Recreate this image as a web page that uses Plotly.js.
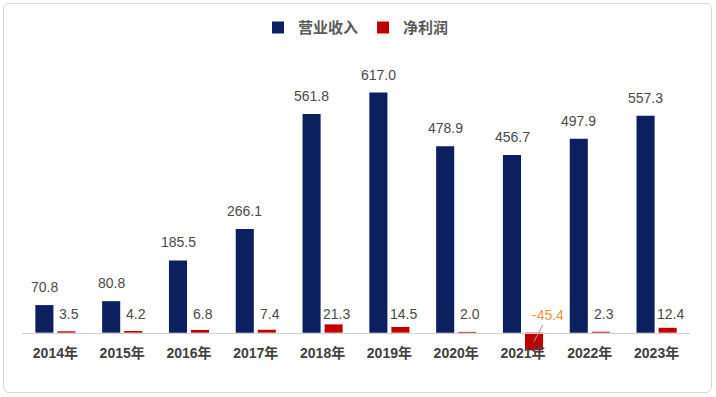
<!DOCTYPE html>
<html>
<head>
<meta charset="utf-8">
<script src="https://cdn.plot.ly/plotly-3.0.1.min.js"></script>
<style>
html,body{margin:0;padding:0;background:#fff;}
#wrap{position:relative;width:716px;height:397px;}
#chart{position:absolute;left:0;top:0;width:716px;height:397px;}
#frame{position:absolute;left:3px;top:3px;width:707px;height:388px;border:1.5px solid #d6d6d6;border-radius:6px;pointer-events:none;}
</style>
</head>
<body>
<div id="wrap"><div id="chart"></div><div id="frame"></div></div>
<script>
const years = ['2014年','2015年','2016年','2017年','2018年','2019年','2020年','2021年','2022年','2023年'];
const revenue = [70.8, 80.8, 185.5, 266.1, 561.8, 617.0, 478.9, 456.7, 497.9, 557.3];
const profit = [3.5, 4.2, 6.8, 7.4, 21.3, 14.5, 2.0, -45.4, 2.3, 12.4];
const seriesNames = ['营业收入', '净利润'];

const FONT = 'Liberation Sans, Arial, Noto Sans CJK SC, sans-serif';
const NAVY = '#0c1f5f';
const RED = '#c00000';

const traces = [
  {type:'bar', name:seriesNames[0], x:years, y:revenue, marker:{color:NAVY}, hoverinfo:'none'},
  {type:'bar', name:seriesNames[1], x:years, y:profit, marker:{color:RED}, hoverinfo:'none'}
];

const annotations = [];
years.forEach((yr, i) => {
  annotations.push({
    x: yr, y: revenue[i], xref:'x', yref:'y', xshift:-11, yshift:8,
    yanchor:'bottom', xanchor:'center', showarrow:false,
    text: revenue[i].toFixed(1),
    font:{family:FONT, size:14, color:'#4a4a4a'}
  });
  if (profit[i] >= 0) {
    annotations.push({
      x: yr, y: 0, xref:'x', yref:'y', xshift:14, yshift:9,
      yanchor:'bottom', xanchor:'center', showarrow:false,
      text: profit[i].toFixed(1),
      font:{family:FONT, size:14, color:'#4a4a4a'}
    });
  } else {
    annotations.push({
      x: yr, y: profit[i] / 2, xref:'x', yref:'y', xshift:11,
      showarrow:true, arrowhead:0, arrowwidth:1, arrowcolor:'#a0a0a0',
      ax: 14, ay: -26, standoff:0,
      text: profit[i].toFixed(1),
      font:{family:FONT, size:14, color:'#f0913a'}
    });
  }
});

const layout = {
  width:716, height:397,
  margin:{l:22, r:26, t:68, b:41, autoexpand:false},
  paper_bgcolor:'#ffffff', plot_bgcolor:'rgba(0,0,0,0)',
  barmode:'group', bargap:0.34, bargroupgap:0.18,
  showlegend:true,
  legend:{orientation:'h', x:0.5, xanchor:'center', y:1.14, yanchor:'middle',
    font:{family:'Noto Sans CJK SC, sans-serif', size:15, color:'#5a5a5a', weight:'bold'},
    itemwidth:30, tracegroupgap:0},
  xaxis:{
    type:'category', anchor:'free', position:60/740,
    showline:true, linecolor:'#d0d0d0', linewidth:1,
    showgrid:false, zeroline:false, ticks:'', ticklabelstandoff:8,
    tickfont:{family:FONT, size:14, color:'#404040', weight:'bold'},
    fixedrange:true
  },
  yaxis:{
    range:[-60, 680], visible:false, showgrid:false, zeroline:false, fixedrange:true
  },
  annotations: annotations
};

Plotly.newPlot('chart', traces, layout, {displayModeBar:false, staticPlot:true});
</script>
</body>
</html>
